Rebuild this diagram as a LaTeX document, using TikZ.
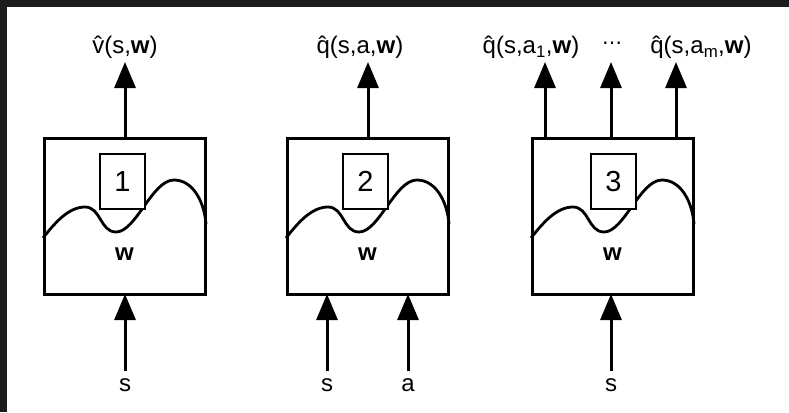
\documentclass[tikz,border=0pt]{standalone}
\usepackage{fontspec}
\setmainfont{Liberation Sans}
\newfontfamily\symfont{DejaVu Sans}
\usetikzlibrary{arrows.meta}
\usetikzlibrary{positioning}
\definecolor{bgdark}{HTML}{1C1C1E}
\tikzstyle{net}=[draw,rectangle,line width=3pt,minimum width=161pt,minimum height=156pt,inner sep=0pt,outer sep=0pt]
\tikzstyle{num}=[draw,rectangle,fill=white,line width=1.6pt,minimum width=45pt,minimum height=55pt,inner sep=0pt,font=\fontsize{29}{32}\selectfont]
\tikzstyle{lab}=[inner sep=0pt,anchor=base,font=\fontsize{24}{28}\selectfont]
\tikzstyle{flow}=[line width=3pt,-{Triangle[length=26pt,width=21pt]}]
\tikzstyle{wave}=[line width=2.8pt]
% one wiggly function inside a box, given the box's north west corner
\def\wave#1{%
  \begin{scope}[shift={(#1.north west)}]
    \draw[wave] (-1,100) .. controls (10,86) and (24,69) .. (41,69)
      .. controls (57,69) and (56,94) .. (72,94)
      .. controls (92,94) and (108,42) .. (130,42)
      .. controls (148,42) and (160,62) .. (162,86);
  \end{scope}}

\begin{document}
\begin{tikzpicture}[x=1pt,y=-1pt]
    \fill[bgdark] (0,0) rectangle (789,412);
    \fill[white] (7,7) rectangle (789,412);

    \node [net] (net1) at (124.5,216) {};
    \node [net] (net2) at (367.5,216) {};
    \node [net] (net3) at (612.5,216) {};

    \wave{net1}
    \wave{net2}
    \wave{net3}

    \node [num] (n1) at (122.5,181.5) {1};
    \node [num] (n2) at (365.5,181.5) {2};
    \node [num] (n3) at (613.5,181.5) {3};

    \node [lab] (w1) at (124.5,260) {\textbf{w}};
    \node [lab] (w2) at (367.5,260) {\textbf{w}};
    \node [lab] (w3) at (612.5,260) {\textbf{w}};

    % outputs
    \coordinate (o1)  at (125,62);
    \coordinate (o2)  at (368,62);
    \coordinate (o31) at (545,62);
    \coordinate (o32) at (611,62);
    \coordinate (o33) at (676,62);
    \node [lab] (v)   at (125,54) {\^{v}(s,\textbf{w})};
    \node [lab] (q)   at (360,54) {\^{q}(s,a,\textbf{w})};
    \node [lab] (q1)  at (531,54) {\^{q}(s,a\textsubscript{1},\textbf{w})};
    \node [lab,font=\fontsize{20}{24}\symfont] (dts) at (612,50) {⋯};
    \node [lab] (qm)  at (701,54) {\^{q}(s,a\textsubscript{m},\textbf{w})};

    \draw [flow] (net1.north -| o1) -- (o1);
    \draw [flow] (net2.north -| o2) -- (o2);
    \draw [flow] (net3.north -| o31) -- (o31);
    \draw [flow] (net3.north -| o32) -- (o32);
    \draw [flow] (net3.north -| o33) -- (o33);

    % inputs
    \coordinate (i1)  at (125,371);
    \coordinate (i2s) at (327,371);
    \coordinate (i2a) at (408,371);
    \coordinate (i3)  at (611,371);
    \node [lab] (s1) at (125,391) {s};
    \node [lab] (s2) at (327,391) {s};
    \node [lab] (a2) at (408,391) {a};
    \node [lab] (s3) at (611,391) {s};

    \draw [flow] (i1) -- (i1 |- net1.south);
    \draw [flow] (i2s) -- (i2s |- net2.south);
    \draw [flow] (i2a) -- (i2a |- net2.south);
    \draw [flow] (i3) -- (i3 |- net3.south);
\end{tikzpicture}
\end{document}
